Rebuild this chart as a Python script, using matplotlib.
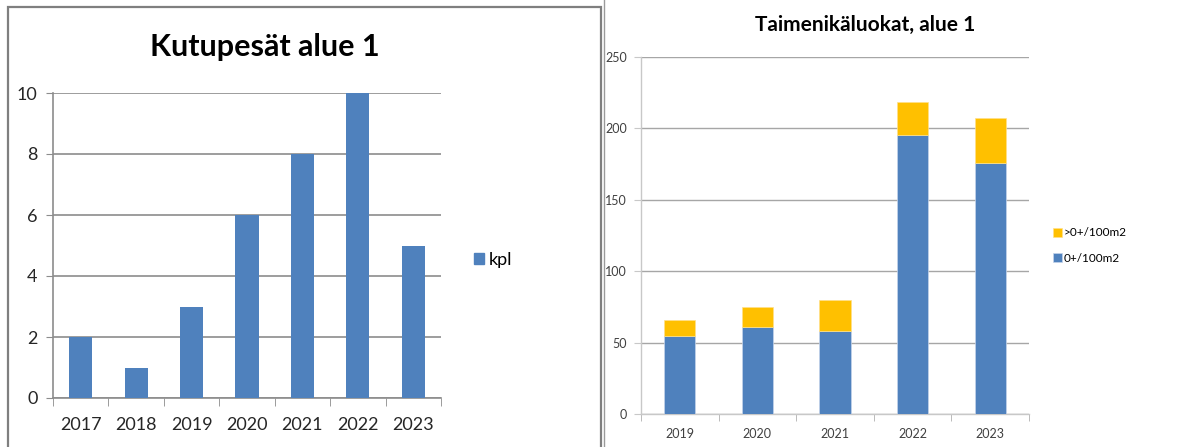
import matplotlib
matplotlib.use("Agg")
import matplotlib.pyplot as plt
from matplotlib.patches import Rectangle, Patch
from matplotlib.lines import Line2D

plt.rcParams['font.family'] = ['Lato', 'DejaVu Sans']

# vasen kaavio: kutupesät
years_left = ['2017', '2018', '2019', '2020', '2021', '2022', '2023']
kpl = [2, 1, 3, 6, 8, 10, 5]

# oikea kaavio: taimenikäluokat
years_right = ['2019', '2020', '2021', '2022', '2023']
zero_plus = [55, 61, 58, 195, 176]
older = [11, 14, 22, 23, 31]

BLUE = '#4F81BD'
YELLOW = '#FFC000'

W, H = 1187, 447
fig = plt.figure(figsize=(W / 100, H / 100), dpi=100)


def fx(px):
    return px / W


def fy(py):
    return 1 - py / H


# kehys vasemman kaavion ympärillä
fig.patches.append(Rectangle((fx(8), fy(460)), fx(601) - fx(8), fy(7) - fy(460),
                             transform=fig.transFigure, fill=False,
                             edgecolor='#7f7f7f', linewidth=1.6))
fig.lines.append(Line2D([fx(603.5), fx(603.5)], [0, 1], transform=fig.transFigure,
                        color='#9a9a9a', linewidth=1.0))

# --- vasen ---
ax1 = fig.add_axes([fx(53), fy(398), fx(441) - fx(53), fy(93) - fy(398)])
x1 = range(len(years_left))
ax1.bar(x1, kpl, width=0.42, color=BLUE, label='kpl', zorder=3)
ax1.set_xlim(-0.5, len(years_left) - 0.5)
ax1.set_ylim(0, 10)
ax1.set_yticks(range(0, 11, 2))
ax1.set_xticks(list(x1))
ax1.set_xticklabels(years_left)
ax1.set_xticks([i - 0.5 for i in range(len(years_left) + 1)], minor=True)
ax1.tick_params(axis='x', which='major', length=0, pad=14, labelsize=13, labelcolor='#262626')
ax1.tick_params(axis='x', which='minor', length=6, color='#8c8c8c', direction='out')
ax1.tick_params(axis='y', length=5, color='#8c8c8c', labelsize=13, labelcolor='#262626', pad=6)
ax1.grid(axis='y', color='#8c8c8c', linewidth=1.2, zorder=0)
for s in ['top', 'right']:
    ax1.spines[s].set_visible(False)
for s in ['left', 'bottom']:
    ax1.spines[s].set_color('#8c8c8c')
    ax1.spines[s].set_linewidth(1.2)
ax1.set_axisbelow(True)
fig.text(fx(265), fy(47), 'Kutupesät alue 1', ha='center', va='center',
         fontsize=22, fontweight='bold', color='black')
fig.legend(handles=[Patch(color=BLUE, label='kpl')], loc='center left',
           bbox_to_anchor=(fx(467), fy(260)), frameon=False, fontsize=13,
           handlelength=0.55, handleheight=0.55, handletextpad=0.25, borderaxespad=0)

# --- oikea ---
ax2 = fig.add_axes([fx(641), fy(414.3), fx(1029) - fx(641), fy(56.7) - fy(414.3)])
x2 = range(len(years_right))
ax2.bar(x2, zero_plus, width=0.40, color=BLUE, label='0+/100m2', zorder=3,
        edgecolor='#c5d4ea', linewidth=0.5)
ax2.bar(x2, older, width=0.40, bottom=zero_plus, color=YELLOW, label='>0+/100m2', zorder=3,
        edgecolor='#ffe08a', linewidth=0.5)
ax2.set_xlim(-0.5, len(years_right) - 0.5)
ax2.set_ylim(0, 250)
ax2.set_yticks(range(0, 251, 50))
ax2.set_xticks(list(x2))
ax2.set_xticklabels(years_right)
ax2.set_xticks([i - 0.5 for i in range(len(years_right) + 1)], minor=True)
ax2.tick_params(axis='x', which='major', length=0, pad=10, labelsize=9, labelcolor='#404040')
ax2.tick_params(axis='x', which='minor', length=5, color='#b0b0b0', direction='out')
ax2.tick_params(axis='y', length=5, color='#c8c8c8', labelsize=9, labelcolor='#404040', pad=5)
ax2.grid(axis='y', color='#a6a6a6', linewidth=1.0, zorder=0)
for s in ['top', 'right']:
    ax2.spines[s].set_visible(False)
for s in ['left', 'bottom']:
    ax2.spines[s].set_color('#c8c8c8')
    ax2.spines[s].set_linewidth(1.0)
ax2.set_axisbelow(True)
fig.text(fx(865), fy(25), 'Taimenikäluokat, alue 1', ha='center', va='center',
         fontsize=15, fontweight='bold', color='black')
h, l = ax2.get_legend_handles_labels()
fig.legend(h[::-1], l[::-1], loc='center left', bbox_to_anchor=(fx(1048), fy(245.5)),
           frameon=False, fontsize=8.5, handlelength=0.75, handleheight=0.75,
           handletextpad=0.2, labelspacing=1.2, borderaxespad=0)

fig.savefig('out.png', dpi=100, facecolor='white')
